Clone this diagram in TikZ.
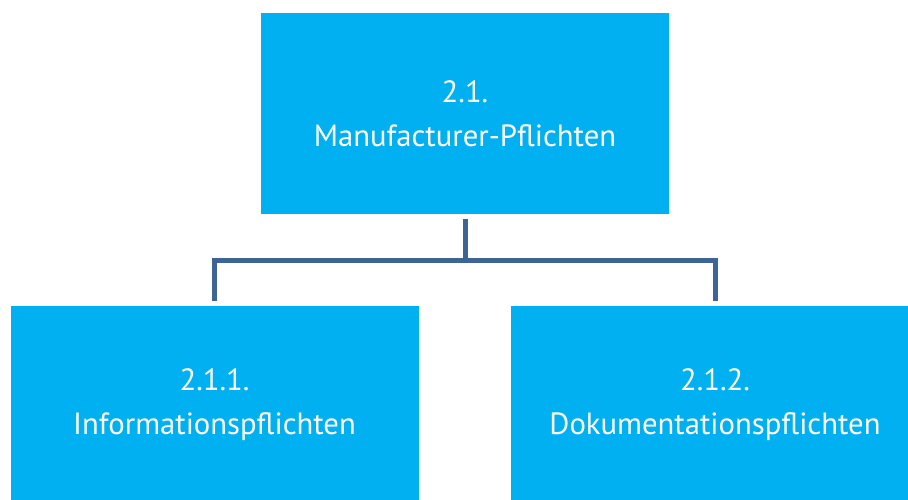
\documentclass[tikz,border=0pt]{standalone}
\usepackage{fontspec}
\setmainfont{PT Sans}
\definecolor{boxblue}{RGB}{0,176,240}
\definecolor{linkblue}{RGB}{62,99,150}
\begin{document}
\begin{tikzpicture}[x=0.75pt,y=-0.75pt,
  orgbox/.style={rectangle, fill=boxblue, draw=none, text=white, align=center,
    minimum width=306pt, inner sep=0pt,
    font=\fontsize{23}{33}\selectfont},
  conn/.style={draw=linkblue, line width=3.75pt}]
  \clip (0,0) rectangle (908,500);
  \fill[white] (0,0) rectangle (908,500);

  \node[orgbox, minimum height=150.75pt] (top) at (465,113.5) {2.1.\\Manufacturer-Pflichten};
  \node[orgbox, minimum height=148.5pt] (left) at (214.5,405) {2.1.1.\\Informationspflichten};
  \node[orgbox, minimum height=148.5pt] (right) at (715,405) {2.1.2.\\Dokumentationspflichten};

  \coordinate (bus) at (465,260);
  \draw[conn, shorten <=3.75pt] (top.south) -- (top.south |- bus);
  \draw[conn, shorten <=3.75pt, shorten >=3.75pt] (left.north) |- (bus) -| (right.north);
\end{tikzpicture}
\end{document}
